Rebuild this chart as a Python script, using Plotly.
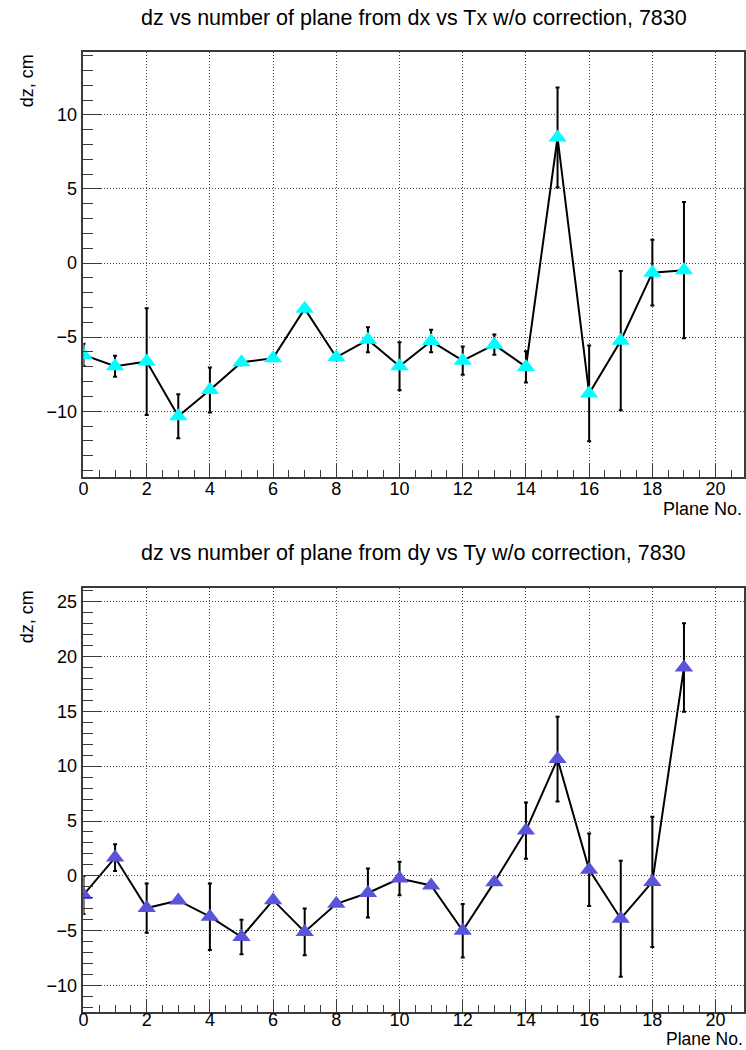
import plotly.graph_objects as go

# Plane numbers
planes = list(range(20))

# dz from dx vs Tx (cm) and its uncertainty
dz_x = [-6.2, -6.96, -6.65, -10.34, -8.57, -6.7, -6.42, -3.08, -6.36, -5.18,
        -6.97, -5.27, -6.59, -5.51, -7.01, 8.47, -8.8, -5.24, -0.65, -0.48]
dz_x_err = [0.75, 0.71, 3.6, 1.49, 1.52, 0.2, 0.2, 0.2, 0.2, 0.85,
            1.62, 0.76, 0.95, 0.68, 1.05, 3.37, 3.23, 4.7, 2.22, 4.6]

# dz from dy vs Ty (cm) and its uncertainty
dz_y = [-1.73, 1.67, -2.93, -2.24, -3.72, -5.57, -2.21, -5.1, -2.54, -1.56,
        -0.24, -0.87, -5.0, -0.57, 4.13, 10.64, 0.56, -3.9, -0.55, 18.98]
dz_y_err = [1.73, 1.22, 2.24, 0.2, 3.03, 1.57, 0.2, 2.13, 0.2, 2.24,
            1.52, 0.2, 2.44, 0.2, 2.56, 3.86, 3.3, 5.28, 5.93, 4.03]

title_x = "dz vs number of plane from dx vs Tx w/o correction, 7830"
title_y = "dz vs number of plane from dy vs Ty w/o correction, 7830"
x_label = "Plane No."
y_label = "dz, cm"

W, H = 746, 1050
FONT = "Liberation Sans, Arial, Helvetica, sans-serif"
FRAME = "#3a3a3a"
GRID = "#444444"

fig = go.Figure()

def add_graph(y, err, color, xa, ya):
    fig.add_trace(go.Scatter(
        x=planes, y=y, mode="lines+markers",
        xaxis=xa, yaxis=ya,
        line=dict(color="black", width=2),
        marker=dict(symbol="triangle-up", size=16, color=color, line=dict(width=0)),
        error_y=dict(type="data", array=err, visible=True,
                     color="black", thickness=2, width=2),
        showlegend=False, hoverinfo="skip",
    ))

add_graph(dz_x, dz_x_err, "#00ffff", "x", "y")
add_graph(dz_y, dz_y_err, "rgb(89,84,217)", "x2", "y2")

def px(v):
    return v / W

def py(v):
    return 1 - v / H

x_common = dict(
    range=[0, 20.9], dtick=2, tick0=0,
    ticks="inside", ticklen=13, tickwidth=1, tickcolor=FRAME,
    minor=dict(ticks="inside", ticklen=7, dtick=0.5, tick0=0, tickcolor=FRAME, showgrid=False),
    showline=True, mirror=True, linecolor=FRAME, linewidth=1.5,
    showgrid=True, griddash="1px,2px", gridcolor=GRID, gridwidth=1,
    zeroline=False,
    tickfont=dict(family=FONT, size=18, color="black"),
    domain=[px(79), px(744)],
)
y_common = dict(
    dtick=5, tick0=0,
    ticks="inside", ticklen=19, tickwidth=1, tickcolor=FRAME,
    minor=dict(ticks="inside", ticklen=10, dtick=1, tick0=0, tickcolor=FRAME, showgrid=False),
    showline=True, mirror=True, linecolor=FRAME, linewidth=1.5,
    showgrid=True, griddash="1px,2px", gridcolor=GRID, gridwidth=1,
    zeroline=False,
    ticklabelstandoff=1,
    tickfont=dict(family=FONT, size=18, color="black"),
)

fig.update_layout(
    width=W, height=H,
    margin=dict(l=0, r=0, t=0, b=0),
    paper_bgcolor="white", plot_bgcolor="white",
    font=dict(family=FONT, color="black"),
    xaxis=dict(**x_common, anchor="y", ticklabelstandoff=-5),
    yaxis=dict(**y_common, range=[-14.44, 14.24], domain=[py(477), py(52)], anchor="x"),
    xaxis2=dict(**x_common, anchor="y2", ticklabelstandoff=-9),
    yaxis2=dict(**y_common, range=[-12.4, 26.23], domain=[py(1012), py(588)], anchor="x2"),
)

annotations = [
    dict(text=title_x, x=px(411.5), y=py(18), xanchor="center", yanchor="middle",
         font=dict(size=21.5)),
    dict(text=title_y, x=px(411.5), y=py(553), xanchor="center", yanchor="middle",
         font=dict(size=21.5)),
    dict(text=y_label, x=px(22), y=py(52), xanchor="center", yanchor="top",
         textangle=-90, font=dict(size=18)),
    dict(text=y_label, x=px(22), y=py(588), xanchor="center", yanchor="top",
         textangle=-90, font=dict(size=18)),
    dict(text=x_label, x=px(744), y=py(509), xanchor="right", yanchor="middle",
         font=dict(size=18)),
    dict(text=x_label, x=px(744), y=0, xanchor="right", yanchor="bottom",
         borderpad=0, font=dict(size=17.5)),
]
for a in annotations:
    a.update(xref="paper", yref="paper", showarrow=False)
    a["font"].update(family=FONT, color="black")
fig.update_layout(annotations=annotations)

fig.write_html("out.html")
